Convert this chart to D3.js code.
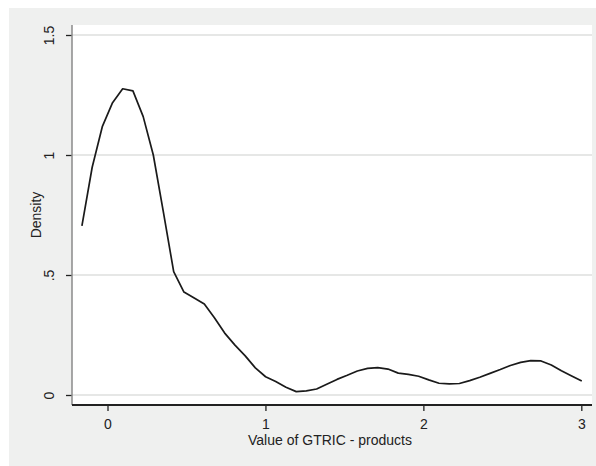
<!DOCTYPE html>
<html>
<head>
<meta charset="utf-8">
<script src="https://cdn.jsdelivr.net/npm/d3@7"></script>
<style>
  body { margin: 0; background: #fff; }
  text { font-family: "Liberation Sans", Arial, sans-serif; fill: #222; }
</style>
</head>
<body>
<svg id="main" width="596" height="466"></svg>
<script>
// kernel density estimate, 50 evaluation points
var gridX = [-0.162, -0.097, -0.033, 0.032, 0.096, 0.161, 0.226, 0.290, 0.355, 0.419,
             0.484, 0.549, 0.613, 0.678, 0.742, 0.807, 0.872, 0.936, 1.001, 1.065,
             1.130, 1.195, 1.259, 1.324, 1.388, 1.453, 1.518, 1.582, 1.647, 1.711,
             1.776, 1.841, 1.905, 1.970, 2.034, 2.099, 2.164, 2.228, 2.293, 2.357,
             2.422, 2.487, 2.551, 2.616, 2.680, 2.745, 2.810, 2.874, 2.939, 3.003];
var density = [0.705, 0.949, 1.118, 1.218, 1.276, 1.267, 1.160, 1.000, 0.758, 0.514,
               0.429, 0.404, 0.379, 0.321, 0.258, 0.208, 0.163, 0.113, 0.076, 0.056,
               0.032, 0.014, 0.017, 0.025, 0.045, 0.065, 0.082, 0.100, 0.111, 0.114,
               0.108, 0.091, 0.086, 0.078, 0.063, 0.049, 0.046, 0.048, 0.060, 0.074,
               0.090, 0.106, 0.123, 0.136, 0.143, 0.142, 0.125, 0.101, 0.079, 0.058];
var xTicks = [0, 1, 2, 3];
var yTicks = [0, 0.5, 1, 1.5];
var yTickLabels = ["0", ".5", "1", "1.5"];
var xTitle = "Value of GTRIC - products";
var yTitle = "Density";

var svg = d3.select("#main");
// plot region edges (note: "top" is reserved on window)
var pLeft = 72, pRight = 592, pTop = 25, pBottom = 405;

// outer graph region
svg.append("rect").attr("x", 9).attr("y", 8).attr("width", 587).attr("height", 458)
    .attr("fill", "#eff0ef");
svg.append("rect").attr("x", pLeft).attr("y", pTop)
    .attr("width", pRight - pLeft).attr("height", pBottom - pTop)
    .attr("fill", "#fff");

var x = d3.scaleLinear().domain([-0.2248, 3.0677]).range([pLeft, pRight]);
var y = d3.scaleLinear().domain([-0.04167, 1.54167]).range([pBottom, pTop]);

// gridlines
svg.append("g").selectAll("line").data(yTicks).enter().append("line")
    .attr("x1", pLeft).attr("x2", pRight)
    .attr("y1", d => y(d)).attr("y2", d => y(d))
    .attr("stroke", "#e6e7e6").attr("stroke-width", 2);

// y axis
var yAxis = svg.append("g").attr("transform", "translate(" + pLeft + ",0)")
    .call(d3.axisLeft(y).tickValues(yTicks).tickSize(6).tickFormat((d, i) => yTickLabels[i]));
yAxis.select(".domain").remove();
yAxis.append("line").attr("x1", 0).attr("x2", 0).attr("y1", pTop).attr("y2", pBottom)
    .attr("stroke", "#8a8a8a").attr("stroke-width", 1.5);
yAxis.selectAll(".tick line").attr("stroke", "#222").attr("stroke-width", 1.3);
yAxis.selectAll(".tick text")
    .attr("x", 0).attr("dy", 0)
    .attr("transform", "translate(-18,0) rotate(-90)")
    .attr("text-anchor", "middle")
    .style("font-size", "14px")
    .style("font-family", "'Liberation Sans', Arial, sans-serif")
    .attr("fill", "#222");

// x axis
var xAxis = svg.append("g").attr("transform", "translate(0," + pBottom + ")")
    .call(d3.axisBottom(x).tickValues(xTicks).tickSize(6).tickFormat(d3.format("d")));
xAxis.select(".domain").remove();
xAxis.append("line").attr("x1", pLeft).attr("x2", pRight).attr("y1", 0).attr("y2", 0)
    .attr("stroke", "#222").attr("stroke-width", 1.8);
xAxis.selectAll(".tick line").attr("stroke", "#222").attr("stroke-width", 1.3);
xAxis.selectAll(".tick text")
    .attr("y", 14)
    .style("font-size", "14px")
    .style("font-family", "'Liberation Sans', Arial, sans-serif")
    .attr("fill", "#222");

// titles
svg.append("text").attr("x", (pLeft + pRight) / 2 - 2).attr("y", 445)
    .attr("text-anchor", "middle").style("font-size", "14px").text(xTitle);
svg.append("text")
    .attr("transform", "translate(41," + ((pTop + pBottom) / 2) + ") rotate(-90)")
    .attr("text-anchor", "middle").style("font-size", "14px").text(yTitle);

// density curve
var pts = gridX.map((d, i) => [d, density[i]]);
svg.append("path").datum(pts)
    .attr("fill", "none").attr("stroke", "#1a1a1a").attr("stroke-width", 1.7)
    .attr("stroke-linejoin", "round")
    .attr("d", d3.line().x(d => x(d[0])).y(d => y(d[1])));
</script>
</body>
</html>
